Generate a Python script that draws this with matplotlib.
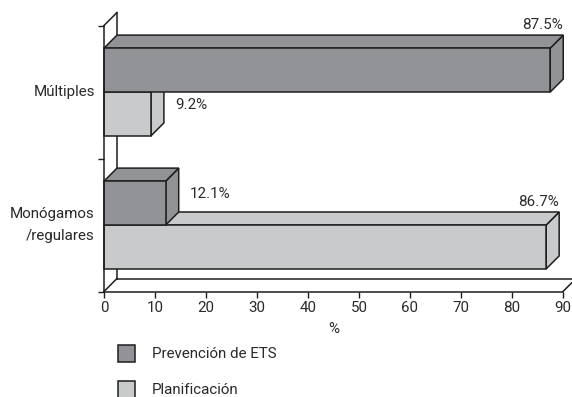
import numpy as np
import matplotlib
matplotlib.use("Agg")
import matplotlib.pyplot as plt
from matplotlib.patches import Polygon, Rectangle

plt.rcParams['font.family'] = ['Roboto', 'DejaVu Sans']

categories = ['Monógamos\n/regulares', 'Múltiples']
series = ['Prevención de ETS', 'Planificación']
prevencion = [12.1, 87.5]
planificacion = [86.7, 9.2]
colors = ['#929396', '#c9cacc']
xticks = np.arange(0, 100, 10)

W, H = 572, 397
fs = 10.9
tc = '#2a2a2a'
fig = plt.figure(figsize=(W / 100, H / 100), dpi=100)
# axes box in pixels: x from 104 to 563, y from 25.5 to 291.5
ax = fig.add_axes([104 / W, (H - 291.5) / H, 459 / W, 266 / H])

xmax = 90
ax.set_xlim(0, xmax)
ax.set_ylim(-0.5, len(categories) - 0.5)

depth_px = 13
dx = depth_px / 459 * xmax
dy = depth_px / 266 * len(categories)
bh = 0.33
edge = dict(edgecolor='#1e1e1e', linewidth=1.1)


def bar3d(y0, val, color):
    y1 = y0 + bh
    front = Polygon([(0, y0), (val, y0), (val, y1), (0, y1)], closed=True,
                    facecolor=color, **edge)
    top = Polygon([(0, y1), (val, y1), (val + dx, y1 + dy), (dx, y1 + dy)],
                  closed=True, facecolor=color, **edge)
    side = Polygon([(val, y0), (val + dx, y0 + dy), (val + dx, y1 + dy), (val, y1)],
                   closed=True, facecolor=color, **edge)
    for p in (side, top, front):
        p.set_clip_on(False)
        ax.add_patch(p)


# back wall and floor outline
ylo, yhi = -0.5, len(categories) - 0.5
wall = [
    [(0, yhi), (dx, yhi + dy)],
    [(dx, yhi + dy), (dx, ylo + dy)],
    [(0, ylo), (dx, ylo + dy)],
    [(dx, ylo + dy), (xmax + dx, ylo + dy)],
    [(xmax, ylo), (xmax + dx, ylo + dy)],
]
for seg in wall:
    xs, ys = zip(*seg)
    ax.plot(xs, ys, color='#1e1e1e', lw=1.1, clip_on=False, zorder=1)

for i in range(len(categories)):
    # lower bar first so the upper one overlaps its top face
    bar3d(i - bh, planificacion[i], colors[1])
    bar3d(i, prevencion[i], colors[0])

# value labels
for i in range(len(categories)):
    for val, y0 in ((prevencion[i], i), (planificacion[i], i - bh)):
        txt = f'{val:.1f}%'
        if val > 50:
            ax.text(val + dx, y0 + bh + dy + 0.02, txt, ha='right', va='bottom',
                    fontsize=fs, color=tc)
        else:
            ax.text(val + dx + 2.2, y0 + bh / 2 + dy / 2 + 0.02, txt, ha='left',
                    va='center', fontsize=fs, color=tc)

for s in ('top', 'right'):
    ax.spines[s].set_visible(False)
for s in ('left', 'bottom'):
    ax.spines[s].set_color('#1e1e1e')
    ax.spines[s].set_linewidth(1.1)

ax.set_xticks(xticks)
ax.tick_params(axis='x', direction='out', length=4, width=1, labelsize=fs,
               colors='#1e1e1e', labelcolor=tc, pad=3)
ax.set_yticks(np.arange(-0.5, len(categories), 1.0))
ax.set_yticklabels([])
ax.tick_params(axis='y', direction='out', length=4, width=1, colors='#1e1e1e')
for i, c in enumerate(categories):
    ax.text(-1.8, i, c, ha='right', va='center', fontsize=fs, color=tc,
            linespacing=1.75)
ax.set_xlabel('%', fontsize=fs, color=tc, labelpad=5)

# legend below the chart
leg_y = [354, 390]
for name, col, yp in zip(series, colors, leg_y):
    sq = Rectangle((118 / W, (H - yp - 8) / H), 17 / W, 17 / H,
                   transform=fig.transFigure, facecolor=col, **edge)
    fig.add_artist(sq)
    fig.text(152 / W, (H - yp) / H, name, ha='left', va='center', fontsize=fs,
             color=tc)

fig.savefig('out.png', dpi=100)
